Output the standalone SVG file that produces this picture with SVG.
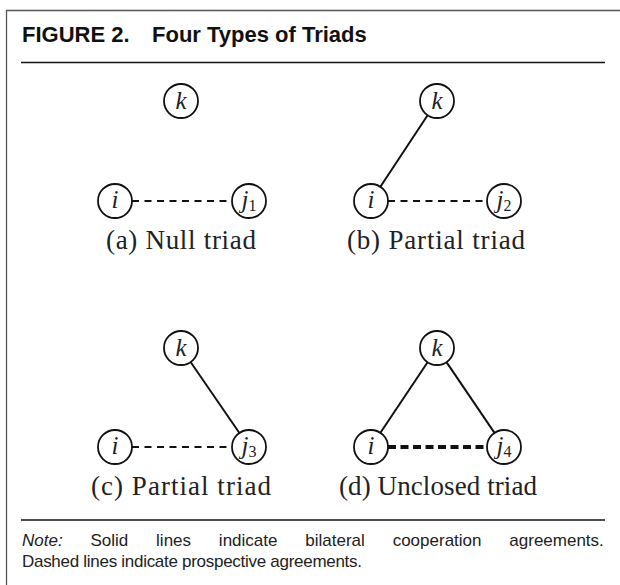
<svg xmlns="http://www.w3.org/2000/svg" width="620" height="585" viewBox="0 0 620 585">
<style>
.frame{stroke:#555;stroke-width:1.3;fill:none}
.rule{stroke:#111;stroke-width:1.5}
.title{font-family:"Liberation Sans",Arial,sans-serif;font-weight:bold;font-size:22px;fill:#111}
.node circle{fill:#fff;stroke:#111;stroke-width:1.8}
.lbl{font-family:"Liberation Serif","Times New Roman",serif;font-style:italic;font-size:25px;fill:#222;text-anchor:middle}
.sub{font-style:normal;font-size:16px}
.cap{font-family:"Liberation Serif","Times New Roman",serif;font-size:27px;fill:#222;text-anchor:middle}
.solid{stroke:#111;stroke-width:2;fill:none}
.dash{stroke:#111;stroke-width:2;stroke-dasharray:7 5.5;fill:none}
.thick{stroke:#111;stroke-width:4;stroke-dasharray:8 4.5;fill:none}
.note{font-family:"Liberation Sans",Arial,sans-serif;font-size:17px;fill:#222}
</style>
<rect width="620" height="585" fill="#fff"/>
<path class="frame" d="M6.5 585 V10.5 H620"/>
<text class="title" x="22" y="42">FIGURE 2.</text>
<text class="title" x="152" y="42">Four Types of Triads</text>
<line class="rule" x1="21" y1="62.5" x2="605" y2="62.5"/>

<g id="connectors">
<line class="dash" x1="132" y1="201" x2="232" y2="201"/>
<line class="solid" x1="380.4" y1="186.8" x2="427.6" y2="115.2"/>
<line class="dash" x1="388" y1="201" x2="487" y2="201"/>
<line class="solid" x1="190.6" y1="362" x2="239.4" y2="433"/>
<line class="dash" x1="132" y1="447" x2="232" y2="447"/>
<line class="solid" x1="380.4" y1="432.8" x2="427.6" y2="362.2"/>
<line class="solid" x1="446.5" y1="362.1" x2="494.5" y2="432.9"/>
<line class="thick" x1="388" y1="447" x2="487" y2="447"/>
</g>

<g id="a_k" class="node"><circle cx="181" cy="101" r="17"/><text class="lbl" x="181" y="109">k</text></g>
<g id="a_i" class="node"><circle cx="115" cy="201" r="17"/><text class="lbl" x="115" y="208">i</text></g>
<g id="a_j1" class="node"><circle cx="249" cy="201" r="17"/><text class="lbl" x="249" y="208">j<tspan class="sub" dy="3">1</tspan></text></g>
<text id="cap_a" class="cap" x="181" y="249" textLength="150" lengthAdjust="spacing">(a) Null triad</text>

<g id="b_k" class="node"><circle cx="437" cy="101" r="17"/><text class="lbl" x="437" y="109">k</text></g>
<g id="b_i" class="node"><circle cx="371" cy="201" r="17"/><text class="lbl" x="371" y="208">i</text></g>
<g id="b_j2" class="node"><circle cx="504" cy="201" r="17"/><text class="lbl" x="504" y="208">j<tspan class="sub" dy="3">2</tspan></text></g>
<text id="cap_b" class="cap" x="436" y="249" textLength="178" lengthAdjust="spacing">(b) Partial triad</text>

<g id="c_k" class="node"><circle cx="181" cy="348" r="17"/><text class="lbl" x="181" y="356">k</text></g>
<g id="c_i" class="node"><circle cx="115" cy="447" r="17"/><text class="lbl" x="115" y="454">i</text></g>
<g id="c_j3" class="node"><circle cx="249" cy="447" r="17"/><text class="lbl" x="249" y="454">j<tspan class="sub" dy="3">3</tspan></text></g>
<text id="cap_c" class="cap" x="181" y="495" textLength="180" lengthAdjust="spacing">(c) Partial triad</text>

<g id="d_k" class="node"><circle cx="437" cy="348" r="17"/><text class="lbl" x="437" y="356">k</text></g>
<g id="d_i" class="node"><circle cx="371" cy="447" r="17"/><text class="lbl" x="371" y="454">i</text></g>
<g id="d_j4" class="node"><circle cx="504" cy="447" r="17"/><text class="lbl" x="504" y="454">j<tspan class="sub" dy="3">4</tspan></text></g>
<text id="cap_d" class="cap" x="438" y="495" textLength="198" lengthAdjust="spacing">(d) Unclosed triad</text>

<line class="rule" x1="21" y1="520" x2="605" y2="520"/>
<text class="note" x="22" y="546" word-spacing="23.1"><tspan font-style="italic">Note:</tspan> Solid lines indicate bilateral cooperation agreements.</text>
<text class="note" x="22" y="567" textLength="340" lengthAdjust="spacing">Dashed lines indicate prospective agreements.</text>
</svg>
